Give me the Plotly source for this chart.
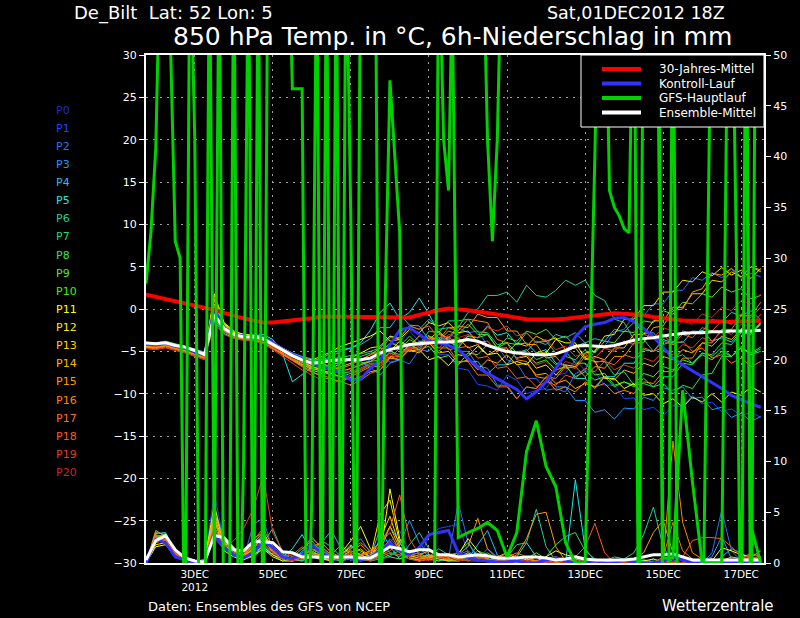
import pandas as pd
import plotly.graph_objects as go

# ---------------- data ----------------
start = "2012-12-01 18:00"
t6 = pd.date_range(start, periods=64, freq="6h")
t3 = pd.date_range(start, periods=127, freq="3h")

tick_dates = ["2012-12-03", "2012-12-05", "2012-12-07", "2012-12-09",
              "2012-12-11", "2012-12-13", "2012-12-15", "2012-12-17"]
tick_labels = ["3DEC<br>2012", "5DEC", "7DEC", "9DEC", "11DEC", "13DEC", "15DEC", "17DEC"]

clim_temp = [1.7, 1.45, 1.2, 0.95, 0.7, 0.45, 0.2, -0.1,
             -0.45, -0.8, -1.1, -1.35, -1.6, -1.6, -1.5, -1.4,
             -1.3, -1.1, -0.9, -0.9, -0.9, -0.9, -0.9, -0.9,
             -0.9, -0.95, -1.0, -1.0, -0.7, -0.4, -0.15, 0.05,
             0.0, -0.15, -0.3, -0.5, -0.7, -0.9, -1.1, -1.2,
             -1.25, -1.3, -1.25, -1.15, -1.0, -0.9, -0.75, -0.6,
             -0.5, -0.55, -0.6, -0.75, -0.95, -1.1, -1.3, -1.35,
             -1.4, -1.45, -1.5, -1.5, -1.5, -1.45, -1.4, -1.4]

mean_temp = [-4.0, -4.1, -4.0, -4.3, -4.5, -4.9, -5.4, -0.7,
             -2.3, -3.0, -3.3, -3.3, -3.5, -4.2, -4.9, -5.5,
             -6.0, -6.4, -6.3, -6.1, -6.0, -6.0, -6.0, -5.8,
             -5.2, -4.8, -4.5, -4.2, -4.1, -4.0, -3.9, -3.9,
             -3.8, -3.6, -3.8, -4.3, -4.7, -5.0, -5.2, -5.3,
             -5.4, -5.4, -5.3, -4.9, -4.4, -4.3, -4.4, -4.45,
             -4.3, -4.0, -3.7, -3.5, -3.4, -3.2, -3.0, -2.9,
             -2.8, -2.8, -2.7, -2.7, -2.6, -2.6, -2.6, -2.5]

mean_prec = [0.3, 2.2, 2.7, 1.3, 0.5, 0.2, 0.1, 2.7,
             2.5, 1.3, 1.2, 2.1, 2.1, 2.0, 1.1, 1.0,
             0.6, 0.6, 0.6, 0.6, 0.6, 0.6, 0.5, 0.5,
             1.0, 1.6, 1.4, 1.1, 1.3, 1.3, 0.8, 0.8,
             0.6, 0.7, 0.8, 0.7, 0.5, 0.5, 0.5, 0.6,
             0.6, 0.5, 0.3, 0.4, 0.6, 0.4, 0.3, 0.3,
             0.3, 0.3, 0.4, 0.6, 0.8, 0.8, 0.9, 0.6,
             0.3, 0.3, 0.3, 0.3, 0.3, 0.3, 0.3, 0.3]

ctrl_temp = [-4.1, -4.2, -4.0, -4.4, -4.6, -5.1, -5.4, 0.0,
             -2.2, -3.0, -3.2, -3.4, -3.4, -4.0, -4.8, -5.4,
             -5.9, -6.4, -6.8, -7.2, -7.5, -8.4, -8.3, -7.0,
             -6.0, -4.2, -2.5, -2.2, -3.0, -3.8, -4.0, -4.3,
             -4.8, -5.8, -6.9, -7.6, -8.2, -8.8, -9.5, -10.6,
             -9.8, -8.6, -7.0, -5.4, -3.3, -2.1, -1.8, -1.6,
             -1.1, -1.0, -1.5, -2.3, -3.3, -4.6, -5.8, -6.6,
             -7.3, -8.0, -8.6, -9.4, -10.2, -10.7, -11.2, -11.6]

ctrl_prec = [0, 2.3, 2.0, 0.6, 0.3, 0.0, 0.2, 2.8,
             1.5, 0.8, 0.5, 1.0, 2.2, 1.5, 0.6, 0.4,
             0.8, 1.8, 1.0, 0.5, 0.8, 0.4, 0.3, 0.6,
             1.2, 2.0, 1.2, 0.8, 1.5, 2.8, 3.0, 3.2,
             1.0, 0.5, 0.3, 0.2, 0.1, 0.1, 0.2, 0.0,
             0.0, 0.3, 0.5, 0.2, 0.0, 0.1, 0.2, 0.0,
             0.0, 0.3, 0.1, 0.0, 0.0, 0.2, 0.6, 0.3,
             0.0, 0.0, 0.1, 0.0, 0.0, 0.2, 0.0, 0.1]

gfs_temp = [3, 9, 19, 45, 45, 32, 8, 6, -45, 45,
            20, -45, -45, 45, -30, 45, -45, -45, 45, -45,
            -18, 45, -45, 45, -45, 45, 50, 50, 50, 50,
            26, 26, 26, -45, -22, 45, -45, 45, -45, 45,
            -45, 45, 10, -45, 45, 50, 50, 45, -45, 0,
            27, 18, 9, -45, -40, -45, -45, -45, -45, -45,
            45, 20, 14, 45, 45, 45, 45, 45, 45, 45,
            20, 8, 20, 45, 45, 45, 45, 45, 45, 45,
            45, 45, 45, 45, 45, 45, 45, 45, 45, 45,
            45, 45, 45, 45, 45, 14, 12, 11, 9.5, 9,
            45, -45, 45, 45, 45, 45, -45, -45, 45, -45,
            -45, -45, -45, -45, -45, 0, 45, 45, 45, 45,
            45, 7, -45, 45, -45, 45, 45]

gfs_prec = [90, 90, 90, 90, 90, 90, 90, 90,
            90, 90, 90, 90, 90, 90, 90, 90,
            90, 90, 90, 90, 90, 90, 90, 90,
            90, 90, 90, 90, 90, 90, 90, 90,
            2.5, 3.0, 3.4, 4.0, 3.2, 0.6, 3.0, 11.0,
            14.0, 9.5, 7.5, 2.0, 0.0, 0.0, 40, 90,
            90, 90, 90, 90, 90, 0.5, 0.5, 17,
            8, 0.0, 0.0, 0.0, 90, 90, 3.6, 0.0]

t_p1 = [-4.2, -4.3, -4.1, -4.4, -4.7, -5.0, -5.6, -1.0,
        -2.5, -3.2, -3.5, -3.4, -3.6, -4.5, -5.2, -6.0,
        -6.8, -7.4, -7.9, -7.5, -7.0, -6.6, -6.8, -6.2,
        -5.5, -4.2, -3.9, -2.6, -3.8, -4.0, -5.4, -5.4,
        -7.0, -7.2, -8.9, -9.1, -9.6, -7.8, -8.4, -10.0,
        -9.6, -9.4, -7.8, -7.6, -6.0, -7.3, -7.4, -9.0,
        -9.0, -10.6, -10.5, -11.9, -11.6, -12.6, -11.4, -11.6,
        -10.2, -11.2, -11.0, -12.1, -11.8, -12.6, -12.2, -12.8]
t_p2 = [-4.0, -4.0, -3.9, -4.2, -4.4, -4.8, -5.2, -0.2,
        -2.0, -2.8, -3.1, -3.0, -3.2, -3.8, -4.6, -5.2,
        -5.7, -6.2, -6.5, -6.9, -7.3, -7.1, -6.6, -6.0,
        -5.2, -6.3, -6.0, -6.5, -4.8, -5.0, -3.6, -3.6,
        -2.2, -2.8, -2.6, -4.3, -4.4, -6.0, -6.4, -8.2,
        -8.2, -9.6, -9.4, -9.8, -7.6, -7.2, -4.8, -4.4,
        -2.7, -2.4, -0.8, -0.8, 0.6, 0.6, 2.2, 2.2,
        3.7, 3.4, 4.3, 3.7, 4.7, 3.6, 4.2, 3.8]
t_p3 = [-4.3, -4.4, -4.2, -4.5, -4.8, -5.2, -5.5, -1.2,
        -2.6, -3.1, -3.4, -3.6, -3.9, -4.4, -5.0, -5.8,
        -6.4, -6.9, -7.0, -6.6, -6.2, -5.8, -6.2, -6.9,
        -7.8, -6.4, -6.0, -4.5, -4.6, -3.2, -3.6, -3.4,
        -5.0, -5.0, -6.7, -7.0, -9.0, -9.0, -10.6, -9.2,
        -9.4, -8.0, -9.2, -9.2, -10.8, -10.8, -12.2, -11.9,
        -13.0, -11.7, -11.8, -10.4, -10.8, -9.3, -9.6, -9.2,
        -10.6, -10.4, -11.9, -11.6, -12.8, -12.3, -13.3, -12.7]
t_p4 = [-3.9, -4.1, -4.0, -4.2, -4.5, -4.7, -5.1, 0.3,
        -1.8, -2.7, -3.0, -3.2, -3.3, -4.0, -4.6, -5.2,
        -5.6, -5.9, -6.0, -5.6, -5.0, -4.6, -4.2, -3.5,
        -2.2, -2.2, -0.6, -1.9, -2.0, -3.7, -3.4, -4.8,
        -4.6, -6.2, -6.2, -7.7, -6.6, -6.6, -5.0, -5.0,
        -3.8, -4.2, -3.0, -3.4, -2.8, -4.0, -3.5, -3.8,
        -2.4, -2.7, -1.6, -2.9, -2.8, -4.2, -3.8, -4.0,
        -2.6, -2.7, -1.2, -1.6, -0.4, -0.8, -0.2, -1.3]
t_p5 = [-4.5, -4.6, -4.3, -4.6, -4.9, -5.3, -5.8, -1.5,
        -2.9, -3.4, -3.5, -3.2, -3.0, -3.6, -5.3, -8.6,
        -7.8, -6.9, -5.8, -5.2, -4.8, -4.6, -4.0, -2.5,
        -0.4, 0.7, -1.2, -0.4, 1.3, -0.6, -2.8, -3.6,
        -4.6, -3.2, -3.4, -2.0, -3.1, -2.8, -4.2, -4.0,
        -5.2, -4.8, -6.4, -6.6, -8.2, -8.2, -9.4, -8.0,
        -8.0, -6.4, -6.4, -4.8, -5.0, -3.6, -4.0, -2.6,
        -2.9, -2.5, -3.8, -3.4, -3.9, -2.6, -3.0, -1.8]
t_p6 = [-4.1, -4.2, -4.1, -4.3, -4.6, -5.0, -5.3, -0.8,
        -2.4, -3.0, -3.2, -3.1, -3.4, -4.1, -4.8, -5.4,
        -5.8, -6.1, -6.0, -5.9, -5.7, -5.5, -5.3, -5.0,
        -4.6, -3.2, -3.4, -2.0, -2.4, -1.2, -2.4, -2.2,
        -2.2, -0.4, 0.0, 1.6, 1.6, 2.0, 0.8, 2.8,
        1.6, 1.4, 2.2, 3.4, 2.8, 3.4, 1.6, 1.0,
        -1.2, -1.6, -3.6, -3.6, -5.0, -4.6, -5.8, -5.4,
        -6.4, -5.2, -5.6, -4.6, -5.6, -4.6, -5.4, -4.7]
t_p7 = [-4.4, -4.3, -4.2, -4.5, -4.7, -5.1, -5.6, -1.3,
        -2.7, -3.3, -3.5, -3.4, -3.7, -4.3, -4.9, -5.6,
        -6.2, -6.6, -6.9, -7.2, -7.6, -7.4, -7.0, -6.4,
        -6.4, -5.2, -5.6, -4.2, -4.2, -2.6, -2.8, -1.4,
        -1.4, -1.2, -2.7, -2.8, -4.2, -4.0, -5.2, -4.8,
        -6.0, -5.5, -6.6, -5.6, -6.0, -4.8, -6.2, -6.2,
        -7.8, -7.4, -9.0, -8.8, -9.2, -8.0, -8.0, -6.4,
        -6.6, -5.2, -5.4, -4.0, -4.2, -2.8, -3.0, -1.6]
t_p8 = [-4.0, -4.0, -3.8, -4.1, -4.4, -4.8, -5.2, 0.0,
        -2.1, -2.9, -3.3, -3.4, -3.7, -4.4, -5.0, -5.6,
        -6.0, -6.5, -6.8, -6.6, -6.3, -6.0, -5.6, -5.2,
        -5.2, -4.0, -4.4, -3.2, -4.3, -3.8, -5.0, -3.9,
        -4.4, -3.2, -3.4, -3.0, -4.6, -4.0, -4.2, -2.8,
        -4.0, -3.8, -5.2, -5.0, -6.4, -6.4, -7.8, -7.6,
        -9.0, -8.6, -9.2, -8.2, -9.2, -8.8, -10.0, -9.0,
        -9.4, -7.8, -7.6, -5.6, -5.6, -4.4, -5.4, -5.0]
t_p9 = [-4.2, -4.3, -4.1, -4.4, -4.6, -5.0, -5.5, -0.4,
        -2.3, -3.0, -3.3, -3.4, -3.6, -4.2, -4.9, -5.6,
        -6.4, -7.0, -7.4, -7.8, -8.0, -7.6, -7.2, -6.6,
        -6.4, -5.0, -5.4, -4.2, -4.8, -4.4, -5.8, -5.5,
        -6.6, -5.2, -5.4, -4.2, -4.6, -3.4, -3.8, -2.6,
        -3.0, -2.4, -3.6, -3.2, -4.4, -4.0, -5.2, -3.8,
        -4.0, -2.6, -2.8, -1.4, -1.6, -0.2, -0.6, 0.8,
        0.6, 1.8, 1.4, 2.6, 2.0, 2.4, 1.2, 1.6]
t_p10 = [-4.1, -4.1, -4.0, -4.3, -4.5, -4.9, -5.4, -0.6,
         -2.2, -2.9, -3.2, -3.3, -3.5, -4.1, -4.8, -5.4,
         -5.9, -6.3, -6.2, -6.0, -5.9, -6.1, -6.4, -6.2,
         -6.0, -4.6, -4.8, -3.6, -4.2, -3.2, -3.8, -2.6,
         -3.0, -1.8, -3.0, -3.0, -4.6, -4.6, -5.8, -5.4,
         -6.4, -6.0, -7.2, -6.8, -8.0, -7.4, -8.4, -8.0,
         -9.2, -8.6, -9.0, -7.6, -8.0, -6.8, -7.2, -6.0,
         -6.4, -5.4, -6.0, -5.0, -5.6, -4.6, -5.2, -4.5]
t_p11 = [-4.3, -4.4, -4.2, -4.5, -4.8, -5.1, -5.3, 1.8,
         -1.6, -2.6, -3.0, -3.1, -3.3, -4.0, -4.8, -5.4,
         -5.8, -6.0, -5.6, -5.0, -4.4, -4.0, -3.6, -3.2,
         -2.6, -3.8, -3.6, -5.0, -4.8, -6.0, -5.6, -6.7,
         -5.4, -5.6, -4.4, -5.4, -5.2, -6.6, -6.2, -6.6,
         -5.2, -5.2, -3.6, -4.0, -4.0, -5.8, -6.2, -8.2,
         -8.2, -9.4, -8.8, -10.2, -10.0, -11.2, -10.6, -11.6,
         -10.4, -11.0, -10.0, -11.0, -9.8, -10.2, -9.2, -9.8]
t_p12 = [-4.0, -4.2, -4.0, -4.3, -4.6, -5.0, -5.4, 1.2,
         -1.8, -2.8, -3.1, -3.3, -3.6, -4.3, -5.0, -5.6,
         -6.2, -6.8, -7.2, -7.0, -6.4, -5.8, -5.2, -4.6,
         -4.4, -3.2, -3.6, -2.4, -2.8, -1.6, -2.0, -1.6,
         -2.8, -2.6, -4.0, -3.8, -5.0, -4.6, -5.8, -5.6,
         -7.0, -6.6, -7.8, -6.6, -6.8, -5.2, -5.0, -3.2,
         -3.0, -1.2, -1.2, 0.4, 0.4, 2.0, 2.0, 3.4,
         3.2, 4.4, 3.9, 4.9, 4.0, 4.6, 3.6, 4.8]
t_p13 = [-4.4, -4.5, -4.3, -4.6, -4.9, -5.2, -5.6, 0.6,
         -2.0, -2.9, -3.4, -3.5, -3.8, -4.5, -5.2, -5.8,
         -6.6, -7.2, -7.6, -7.3, -6.8, -6.4, -6.0, -5.4,
         -4.6, -5.0, -3.8, -4.4, -3.2, -3.6, -2.6, -3.8,
         -3.4, -4.6, -4.2, -5.4, -4.8, -5.2, -4.0, -4.4,
         -3.2, -3.8, -3.4, -4.8, -4.6, -6.0, -5.6, -6.0,
         -4.6, -4.6, -3.0, -3.0, -1.4, -1.4, 0.2, 0.2,
         1.8, 1.8, 3.4, 3.2, 4.4, 3.8, 5.0, 4.4]
t_p14 = [-4.2, -4.4, -4.2, -4.4, -4.7, -5.1, -5.5, 1.6,
         -1.7, -2.7, -3.2, -3.4, -3.6, -4.2, -4.9, -5.6,
         -6.2, -6.8, -7.2, -7.6, -8.0, -8.4, -8.0, -7.4,
         -7.2, -5.8, -6.0, -4.8, -5.2, -4.0, -5.2, -5.0,
         -6.4, -6.0, -7.2, -6.0, -6.4, -5.4, -6.6, -6.4,
         -7.8, -7.6, -8.8, -8.4, -9.4, -8.8, -9.2, -8.0,
         -8.4, -7.2, -7.6, -6.4, -6.8, -5.6, -6.0, -4.8,
         -5.2, -4.0, -4.4, -3.2, -3.6, -2.4, -2.8, -1.6]
t_p15 = [-4.5, -4.6, -4.4, -4.7, -5.0, -5.4, -5.8, 1.0,
         -2.0, -3.1, -3.5, -3.6, -3.9, -4.6, -5.4, -6.0,
         -6.6, -7.0, -7.3, -7.6, -7.4, -7.0, -6.6, -6.2,
         -5.4, -5.8, -4.6, -5.0, -3.8, -4.2, -3.0, -3.4,
         -2.0, -2.2, -0.6, -1.0, -1.0, -2.6, -2.6, -4.2,
         -4.2, -5.8, -5.6, -7.0, -6.8, -8.0, -6.8, -7.0,
         -5.6, -5.6, -4.0, -4.0, -2.2, -2.0, -0.2, 0.0,
         2.0, 2.4, 4.2, 4.0, 4.8, 3.8, 5.0, 4.6]
t_p16 = [-4.3, -4.5, -4.3, -4.6, -4.9, -5.3, -5.7, 0.2,
         -2.4, -3.2, -3.5, -3.6, -3.9, -4.6, -5.3, -6.0,
         -6.8, -7.4, -8.0, -8.4, -8.6, -8.0, -7.4, -6.8,
         -6.8, -5.6, -6.0, -4.6, -4.8, -3.4, -3.6, -2.2,
         -2.6, -1.2, -1.4, -1.6, -3.6, -4.0, -6.0, -6.2,
         -8.0, -8.2, -9.6, -9.2, -9.8, -8.6, -9.2, -8.8,
         -10.0, -9.6, -10.0, -8.6, -8.8, -7.4, -7.4, -5.8,
         -5.8, -4.0, -4.0, -2.4, -2.4, -0.8, -0.8, 0.8]
t_p17 = [-4.6, -4.7, -4.5, -4.8, -5.1, -5.5, -5.9, -0.3,
         -2.6, -3.4, -3.6, -3.7, -4.0, -4.7, -5.4, -6.2,
         -6.9, -7.5, -7.8, -8.2, -8.6, -9.0, -8.4, -7.6,
         -7.2, -5.6, -5.6, -4.2, -4.4, -3.2, -4.6, -4.6,
         -6.2, -6.2, -7.8, -7.8, -9.2, -9.2, -10.6, -9.2,
         -9.4, -8.0, -8.2, -6.8, -7.0, -5.6, -5.8, -4.6,
         -5.0, -3.8, -4.2, -3.0, -3.4, -3.0, -4.2, -3.8,
         -5.0, -4.6, -5.8, -5.4, -6.4, -5.8, -6.8, -6.2]
t_p18 = [-4.2, -4.3, -4.2, -4.5, -4.7, -5.1, -5.5, -0.9,
         -2.5, -3.2, -3.4, -3.3, -3.5, -4.1, -4.7, -5.3,
         -5.8, -6.1, -6.4, -6.8, -7.0, -6.6, -6.0, -5.4,
         -5.0, -3.4, -3.4, -2.0, -2.4, -2.0, -3.4, -3.2,
         -4.6, -4.4, -5.8, -5.6, -7.0, -6.8, -8.2, -8.0,
         -9.2, -8.6, -9.0, -7.8, -8.2, -7.0, -7.4, -6.2,
         -6.6, -5.4, -5.8, -4.6, -5.0, -3.8, -4.2, -3.0,
         -3.4, -2.2, -2.6, -1.4, -1.8, -0.6, -1.0, 0.2]
t_p19 = [-4.7, -4.8, -4.6, -4.9, -5.2, -5.6, -6.0, -1.8,
         -3.0, -3.5, -3.7, -3.8, -4.1, -4.8, -5.6, -6.4,
         -7.2, -7.8, -8.4, -8.8, -8.4, -7.8, -7.2, -6.6,
         -6.4, -5.2, -5.6, -4.4, -5.0, -4.0, -4.6, -3.6,
         -4.2, -3.0, -3.4, -2.2, -2.6, -2.0, -3.2, -2.8,
         -4.0, -3.6, -4.8, -4.4, -5.6, -5.2, -6.4, -6.0,
         -7.2, -6.6, -7.0, -5.8, -6.2, -5.0, -5.4, -4.2,
         -4.6, -3.4, -3.8, -2.6, -3.0, -1.8, -2.0, -0.6]
t_p20 = [-4.3, -4.4, -4.2, -4.5, -4.8, -5.2, -5.6, -0.5,
         -2.3, -3.1, -3.4, -3.5, -3.8, -4.5, -5.1, -5.8,
         -6.2, -6.6, -6.8, -7.0, -7.2, -7.4, -7.0, -6.6,
         -6.6, -5.4, -5.8, -4.6, -5.0, -3.8, -4.2, -3.0,
         -3.4, -3.0, -4.2, -3.8, -5.0, -4.6, -5.8, -5.4,
         -6.6, -6.2, -7.4, -6.2, -6.6, -5.4, -5.8, -4.6,
         -5.0, -3.8, -4.2, -3.0, -3.4, -2.2, -2.6, -1.4,
         -1.8, -0.6, -1.0, 0.2, -0.2, 1.0, 0.6, 1.8]

r_p1 = [0, 2.4, 2.2, 0.8, 0.3, 0, 0.2, 6.9,
        2.0, 1.0, 0.6, 1.4, 2.8, 1.2, 0.4, 0.2,
        0.6, 1.6, 0.8, 0.2, 0.4, 1.0, 0.6, 0.2,
        0.8, 2.0, 3.2, 1.0, 0.4, 2.6, 3.4, 3.6,
        3.8, 1.0, 0.3, 0.1, 0.0, 0.2, 0.0, 0.0,
        0.1, 0.3, 0.0, 0.0, 0.2, 0.0, 0.0, 0.1,
        0.0, 0.0, 0.2, 0.4, 0.0, 0.0, 0.1, 0.0,
        0.0, 0.0, 0.3, 0.0, 0.0, 0.0, 0.2, 0.0]
r_p2 = [0, 2.0, 2.6, 1.0, 0.2, 0, 0.0, 4.2,
        1.6, 0.8, 0.4, 3.8, 4.4, 1.2, 0.6, 0.3,
        0.2, 0.8, 1.6, 0.6, 0.2, 0.4, 0.8, 0.4,
        0.6, 2.4, 1.4, 0.6, 0.8, 1.2, 0.6, 0.4,
        6.0, 2.0, 0.4, 1.4, 0.6, 0.2, 0.0, 0.0,
        0.0, 0.0, 0.2, 0.0, 0.0, 0.0, 0.3, 0.0,
        0.0, 0.2, 0.0, 0.0, 0.0, 0.0, 0.3, 0.0,
        0.0, 0.0, 1.0, 5.2, 1.2, 0.2, 0.0, 0.0]
r_p3 = [0, 2.2, 2.4, 0.6, 0.2, 0, 0.3, 5.6,
        2.2, 1.4, 0.8, 0.6, 1.8, 0.8, 0.4, 0.2,
        1.2, 2.6, 1.4, 0.6, 0.4, 1.4, 2.4, 1.0,
        0.4, 0.6, 1.8, 4.2, 2.0, 0.8, 0.4, 0.3,
        0.8, 1.2, 0.4, 0.6, 0.2, 0.0, 0.0, 0.4,
        0.2, 0.0, 0.0, 0.0, 0.0, 0.1, 0.0, 0.0,
        0.0, 0.0, 0.0, 0.0, 0.4, 0.2, 0.0, 0.0,
        0.0, 0.2, 0.6, 2.6, 0.4, 0.0, 0.0, 0.1]
r_p4 = [0, 2.6, 2.8, 1.0, 0.3, 0.1, 0.4, 4.8,
        2.6, 1.6, 0.6, 2.4, 3.0, 1.4, 0.6, 0.4,
        0.2, 0.6, 2.0, 3.2, 1.4, 0.4, 0.2, 0.6,
        3.4, 1.6, 0.4, 0.8, 1.6, 0.6, 0.2, 0.4,
        0.6, 0.4, 1.8, 3.2, 0.8, 0.2, 0.0, 0.0,
        0.3, 0.0, 0.0, 0.0, 0.0, 0.0, 0.0, 0.2,
        0.0, 0.0, 0.0, 0.3, 0.0, 0.0, 0.0, 0.0,
        0.0, 0.0, 0.0, 0.6, 1.4, 1.0, 0.4, 0.0]
r_p5 = [0, 2.9, 3.0, 1.2, 0.4, 0, 0.2, 3.4,
        2.0, 1.2, 0.6, 1.8, 2.6, 1.0, 0.6, 1.4,
        2.8, 1.0, 0.4, 0.3, 0.8, 1.8, 0.6, 0.2,
        1.2, 3.6, 2.0, 0.6, 0.4, 0.8, 0.4, 0.2,
        0.4, 0.6, 0.2, 0.4, 0.0, 0.2, 0.6, 2.0,
        0.6, 0.2, 0.4, 0.0, 8.2, 1.4, 0.2, 0.0,
        0.0, 0.0, 0.0, 0.2, 0.0, 0.0, 0.0, 0.0,
        0.0, 0.0, 0.2, 0.0, 0.0, 0.0, 0.0, 0.0]
r_p6 = [0, 3.0, 2.8, 1.2, 0.4, 0.1, 0.3, 3.8,
        2.4, 1.4, 0.8, 1.2, 2.0, 3.4, 1.0, 0.4,
        0.2, 1.0, 2.2, 1.6, 0.6, 0.3, 0.4, 0.8,
        2.2, 1.0, 0.6, 1.8, 3.0, 1.4, 0.4, 0.6,
        1.0, 2.0, 0.6, 0.4, 0.2, 0.6, 1.8, 2.0,
        5.3, 1.6, 0.2, 0.0, 0.4, 0.0, 0.0, 0.2,
        0.6, 0.4, 1.0, 2.8, 5.5, 1.6, 0.0, 0.0,
        0.0, 0.2, 0.4, 0.0, 0.0, 0.2, 0.0, 0.0]
r_p7 = [0, 2.7, 2.5, 0.9, 0.2, 0, 0.2, 3.0,
        1.8, 1.0, 0.4, 0.6, 1.4, 0.8, 0.2, 0.4,
        1.0, 0.6, 0.3, 0.8, 1.8, 0.8, 0.4, 0.2,
        0.4, 0.8, 1.2, 0.6, 0.4, 0.6, 1.4, 0.8,
        0.4, 0.2, 0.6, 1.0, 0.4, 0.2, 0.0, 0.0,
        0.2, 0.6, 1.8, 2.6, 3.0, 1.2, 0.4, 0.2,
        0.0, 0.0, 0.3, 0.0, 0.0, 0.2, 0.0, 0.0,
        0.0, 0.0, 0.0, 0.4, 0.0, 0.0, 0.0, 0.3]
r_p8 = [0, 2.5, 2.9, 1.1, 0.3, 0.1, 0.2, 4.0,
        2.2, 1.2, 0.6, 1.0, 2.2, 1.6, 0.8, 0.4,
        0.6, 1.4, 0.8, 0.4, 0.2, 0.6, 1.0, 0.6,
        0.8, 1.8, 1.0, 0.4, 0.2, 0.4, 0.6, 0.4,
        0.2, 0.4, 1.2, 0.8, 0.2, 0.0, 0.3, 0.0,
        0.0, 0.4, 0.0, 0.0, 0.2, 0.0, 0.0, 0.0,
        0.2, 0.0, 0.0, 0.0, 0.0, 0.4, 0.0, 0.0,
        0.0, 0.0, 0.0, 0.0, 0.3, 0.0, 0.0, 0.0]
r_p9 = [0, 2.3, 2.6, 1.0, 0.2, 0, 0.3, 3.6,
        1.6, 0.8, 0.4, 1.6, 2.4, 1.0, 0.4, 0.6,
        1.4, 2.2, 1.0, 0.4, 0.8, 0.6, 0.2, 0.4,
        1.2, 0.6, 0.4, 0.8, 1.0, 0.4, 0.2, 0.6,
        1.0, 0.6, 0.2, 0.4, 0.0, 0.0, 0.2, 0.4,
        1.0, 0.4, 0.0, 0.0, 0.0, 0.2, 0.0, 0.0,
        0.0, 0.0, 0.0, 0.2, 0.0, 0.0, 0.0, 0.0,
        0.0, 0.0, 0.0, 0.0, 0.0, 0.2, 0.0, 0.0]
r_p10 = [0, 2.1, 2.4, 0.8, 0.3, 0, 0.1, 2.6,
         1.4, 0.8, 0.5, 1.2, 1.8, 1.0, 0.6, 0.4,
         0.8, 1.2, 0.6, 0.4, 0.6, 1.0, 0.8, 0.4,
         0.6, 1.0, 0.8, 0.4, 0.6, 0.8, 0.4, 0.2,
         0.6, 0.8, 0.4, 0.2, 0.6, 0.4, 0.2, 0.0,
         0.0, 0.2, 0.0, 0.0, 0.0, 0.0, 0.2, 0.0,
         0.0, 0.0, 0.0, 0.0, 0.2, 0.0, 0.0, 0.0,
         0.0, 0.0, 0.2, 0.0, 0.0, 0.0, 0.0, 0.0]
r_p11 = [0, 1.6, 1.8, 0.6, 0.2, 0, 0.0, 4.4,
         1.2, 0.6, 0.3, 0.8, 1.4, 0.6, 0.2, 0.2,
         0.4, 0.6, 0.4, 0.2, 1.0, 2.2, 3.6, 1.4,
         0.6, 7.3, 2.4, 0.6, 0.2, 0.4, 0.6, 0.4,
         0.8, 2.4, 1.2, 0.4, 0.2, 0.0, 0.0, 0.4,
         0.2, 0.6, 1.2, 0.8, 0.6, 0.2, 0.0, 0.0,
         0.0, 0.0, 0.0, 0.2, 0.4, 0.0, 0.0, 0.0,
         0.0, 0.0, 0.2, 1.5, 1.2, 0.8, 0.6, 0.4]
r_p12 = [0, 1.8, 2.0, 0.7, 0.2, 0, 0.1, 5.8,
         1.4, 0.8, 0.4, 1.0, 1.6, 0.8, 0.4, 0.2,
         0.4, 0.8, 0.6, 0.4, 0.8, 1.6, 1.2, 0.6,
         4.8, 6.2, 2.0, 0.8, 0.4, 0.6, 0.8, 0.6,
         0.4, 0.6, 0.4, 0.2, 0.6, 1.0, 0.4, 0.2,
         0.0, 0.2, 0.4, 0.0, 0.0, 0.0, 0.0, 0.2,
         0.0, 0.0, 0.0, 0.0, 0.0, 0.0, 0.0, 0.0,
         0.2, 0.0, 0.0, 0.0, 0.0, 0.0, 0.4, 0.2]
r_p13 = [0, 2.0, 2.3, 0.8, 0.3, 0, 0.2, 4.6,
         1.8, 1.0, 0.6, 2.0, 3.0, 1.4, 0.6, 0.4,
         0.6, 1.0, 0.8, 0.4, 0.6, 1.2, 0.8, 0.4,
         2.4, 4.6, 1.6, 0.6, 0.3, 0.6, 0.4, 0.2,
         0.2, 0.4, 0.6, 0.8, 0.4, 0.2, 0.0, 0.0,
         0.0, 0.0, 0.2, 0.4, 0.2, 0.0, 0.0, 0.0,
         0.0, 0.0, 0.0, 0.0, 0.0, 0.2, 0.0, 0.0,
         0.0, 0.0, 0.0, 0.2, 0.6, 0.4, 0.2, 0.0]
r_p14 = [0, 2.4, 2.7, 0.9, 0.3, 0, 0.2, 5.0,
         2.0, 1.2, 0.6, 1.4, 2.6, 1.2, 0.4, 0.2,
         0.6, 1.8, 1.2, 0.6, 0.4, 0.8, 1.4, 0.6,
         1.8, 3.6, 1.4, 0.6, 0.4, 0.8, 0.6, 0.4,
         0.6, 1.0, 0.6, 0.3, 0.2, 0.4, 0.2, 0.0,
         0.0, 0.4, 0.6, 0.2, 0.0, 0.0, 0.0, 0.0,
         0.0, 0.2, 0.0, 0.0, 0.0, 0.0, 0.0, 0.0,
         0.0, 0.0, 0.0, 0.0, 0.0, 0.2, 0.6, 0.2]
r_p15 = [0, 3.2, 2.6, 1.0, 0.4, 0.1, 0.2, 4.2,
         2.0, 1.0, 0.6, 1.8, 2.8, 1.4, 0.6, 0.4,
         0.8, 1.6, 2.0, 1.0, 0.6, 0.4, 0.8, 1.2,
         2.0, 3.0, 1.2, 0.6, 0.8, 1.2, 0.6, 0.4,
         0.8, 1.6, 4.4, 1.4, 0.4, 0.2, 0.8, 2.4,
         4.8, 5.0, 1.6, 0.2, 0.4, 0.2, 0.0, 0.0,
         0.0, 0.0, 0.4, 1.0, 3.0, 4.2, 1.0, 0.2,
         0.0, 0.2, 0.4, 0.2, 0.0, 0.4, 1.0, 0.6]
r_p16 = [0, 2.8, 2.4, 0.9, 0.3, 0, 0.3, 3.2,
         1.8, 1.2, 0.8, 2.2, 3.4, 1.6, 0.8, 0.4,
         1.0, 2.4, 1.6, 0.8, 0.4, 1.0, 1.8, 0.8,
         1.4, 2.2, 1.0, 0.6, 0.4, 0.6, 0.8, 0.6,
         0.4, 0.6, 0.8, 0.4, 0.2, 0.6, 1.0, 0.6,
         0.2, 0.0, 0.0, 0.0, 0.2, 0.0, 0.0, 0.0,
         0.0, 0.0, 0.0, 0.0, 0.0, 0.2, 12.0, 4.0,
         1.0, 0.4, 0.2, 0.0, 0.0, 0.2, 0.6, 1.2]
r_p17 = [0, 2.6, 2.2, 0.8, 0.2, 0, 0.2, 3.8,
         2.2, 1.4, 0.8, 1.6, 2.0, 1.0, 0.6, 0.8,
         1.6, 1.0, 0.6, 0.4, 0.8, 1.4, 2.0, 1.2,
         0.8, 1.2, 2.0, 1.0, 0.6, 0.4, 0.6, 0.8,
         1.0, 0.6, 0.4, 0.2, 0.4, 0.6, 0.4, 0.2,
         0.6, 0.4, 0.2, 0.0, 0.0, 0.0, 0.0, 0.0,
         0.0, 0.0, 0.0, 0.0, 0.0, 0.6, 4.0, 1.2,
         0.4, 0.2, 0.0, 0.0, 0.2, 0.4, 0.8, 0.6]
r_p18 = [0, 2.2, 2.6, 1.2, 0.4, 0.1, 0.2, 3.0,
         1.8, 1.4, 1.0, 1.6, 2.4, 1.2, 0.6, 0.4,
         0.8, 1.4, 1.0, 0.6, 0.4, 0.6, 0.8, 1.0,
         2.0, 3.4, 6.7, 2.4, 0.8, 0.4, 0.6, 0.4,
         0.6, 0.8, 0.4, 0.2, 0.4, 1.0, 0.6, 0.2,
         0.2, 0.4, 0.6, 0.4, 0.6, 1.6, 3.9, 1.0,
         0.0, 0.0, 0.0, 0.0, 0.0, 0.2, 0.0, 0.6,
         2.2, 2.5, 2.5, 2.4, 1.6, 0.6, 0.2, 0.0]
r_p19 = [0, 2.0, 2.4, 1.0, 0.3, 0, 0.4, 2.4,
         1.4, 2.2, 3.4, 5.3, 8.6, 3.0, 1.2, 0.6,
         0.4, 0.8, 0.6, 0.4, 0.6, 0.8, 0.4, 0.2,
         0.6, 1.0, 0.8, 0.4, 0.2, 0.4, 0.6, 0.8,
         0.4, 0.2, 0.2, 0.6, 0.8, 0.4, 0.2, 0.0,
         0.0, 0.2, 0.0, 0.0, 0.0, 0.0, 0.0, 0.0,
         0.0, 0.0, 0.0, 0.0, 0.0, 0.0, 0.0, 0.0,
         0.0, 0.0, 0.0, 0.2, 0.0, 0.6, 0.6, 0.4]
r_p20 = [0, 2.4, 2.0, 0.8, 0.2, 0, 0.2, 3.4,
         1.6, 1.0, 0.6, 1.2, 1.8, 1.0, 0.4, 0.2,
         0.4, 0.8, 0.6, 0.4, 0.6, 1.0, 0.6, 0.4,
         0.8, 1.6, 1.2, 0.6, 0.4, 0.2, 0.4, 0.6,
         0.2, 0.4, 0.6, 0.2, 0.0, 0.2, 0.4, 0.2,
         0.0, 0.0, 0.2, 0.0, 0.0, 0.0, 0.2, 0.0,
         0.0, 0.0, 0.0, 0.0, 0.0, 0.0, 0.2, 0.0,
         0.0, 0.0, 0.0, 0.0, 0.0, 0.2, 0.4, 0.2]

member_names = ["P%d" % i for i in range(21)]
member_colors = ["#2828c8", "#1e46ff", "#2870ff", "#1e96ff", "#1ebef0", "#1ee6e6",
                 "#1ed296", "#1edc6e", "#32e646", "#50e632", "#3cf01e", "#ffff00",
                 "#ffe600", "#ffcd00", "#ffb400", "#ff9b00", "#ff8200", "#ff6e0a",
                 "#ff5a1e", "#e63c1e", "#c82828"]

member_temps = [t_p1, t_p2, t_p3, t_p4, t_p5, t_p6, t_p7, t_p8, t_p9, t_p10,
                t_p11, t_p12, t_p13, t_p14, t_p15, t_p16, t_p17, t_p18, t_p19, t_p20]
member_precs = [r_p1, r_p2, r_p3, r_p4, r_p5, r_p6, r_p7, r_p8, r_p9, r_p10,
                r_p11, r_p12, r_p13, r_p14, r_p15, r_p16, r_p17, r_p18, r_p19, r_p20]

legend_names = ["30-Jahres-Mittel", "Kontroll-Lauf", "GFS-Hauptlauf", "Ensemble-Mittel"]
legend_colors = ["#ff0000", "#3232ff", "#00d200", "#ffffff"]

RED, BLUE, GREEN, WHITE = legend_colors
FONT = "DejaVu Sans"

# ---------------- figure ----------------
fig = go.Figure()

# temperatures on main axis
for i, (t, c) in enumerate(zip(member_temps, member_colors[1:])):
    fig.add_trace(go.Scatter(x=t6, y=t, yaxis="y", mode="lines",
                             line=dict(color=c, width=1), showlegend=False,
                             name=member_names[i + 1]))
fig.add_trace(go.Scatter(x=t6, y=ctrl_temp, yaxis="y", mode="lines",
                         line=dict(color=BLUE, width=3), showlegend=False))
fig.add_trace(go.Scatter(x=t6, y=mean_temp, yaxis="y", mode="lines",
                         line=dict(color=WHITE, width=3), showlegend=False))
fig.add_trace(go.Scatter(x=t6, y=clim_temp, yaxis="y", mode="lines",
                         line=dict(color=RED, width=4), showlegend=False))

# precipitation on right axis
for i, (r, c) in enumerate(zip(member_precs, member_colors[1:])):
    fig.add_trace(go.Scatter(x=t6, y=r, yaxis="y2", mode="lines",
                             line=dict(color=c, width=1), showlegend=False,
                             name=member_names[i + 1] + " RR"))
fig.add_trace(go.Scatter(x=t6, y=ctrl_prec, yaxis="y2", mode="lines",
                         line=dict(color=BLUE, width=3), showlegend=False))
fig.add_trace(go.Scatter(x=t6, y=mean_prec, yaxis="y2", mode="lines",
                         line=dict(color=WHITE, width=3), showlegend=False))
fig.add_trace(go.Scatter(x=t6, y=gfs_prec, yaxis="y2", mode="lines",
                         line=dict(color=GREEN, width=3), showlegend=False))

# GFS main run temperature drawn on top
fig.add_trace(go.Scatter(x=t3, y=gfs_temp, yaxis="y3", mode="lines",
                         line=dict(color=GREEN, width=3), showlegend=False))

grid = dict(showgrid=True, gridcolor="#a0a0a0", gridwidth=1, griddash="2px,5px")

fig.update_layout(
    width=800, height=618,
    paper_bgcolor="black", plot_bgcolor="black",
    margin=dict(l=146, r=36, t=55, b=55),
    font=dict(family=FONT, color="white", size=11),
    showlegend=False,
    xaxis=dict(type="date", range=["2012-12-01 18:00", "2012-12-17 14:00"],
               tickvals=tick_dates, ticktext=tick_labels,
               showline=True, linecolor="white", linewidth=2, mirror=True,
               ticks="", tickfont=dict(size=10.5, color="white"),
               zeroline=False, **grid),
    yaxis=dict(range=[-30, 30], tickvals=list(range(-30, 31, 5)),
               showline=True, linecolor="white", linewidth=2,
               ticks="outside", ticklen=5, tickcolor="white",
               tickfont=dict(size=11, color="white"), zeroline=False, **grid),
    yaxis2=dict(range=[0, 50], tickvals=list(range(0, 51, 5)), overlaying="y",
                side="right", showline=True, linecolor="white", linewidth=2,
                ticks="outside", ticklen=5, tickcolor="white",
                tickfont=dict(size=11, color="white"), showgrid=False, zeroline=False),
    yaxis3=dict(range=[-30, 30], overlaying="y", visible=False),
)


def px_x(p):
    return (p - 146) / 618.0


def px_y(p):
    return 1 - (p - 55) / 508.0


shapes = [dict(type="rect", xref="paper", yref="paper",
               x0=px_x(581), x1=1.0, y0=px_y(127), y1=1.0,
               fillcolor="black", line=dict(color="white", width=1), layer="above")]
annotations = []
rows = [69, 83.5, 98, 112.5]
for name, col, ry in zip(legend_names, legend_colors, rows):
    shapes.append(dict(type="line", xref="paper", yref="paper",
                       x0=px_x(602), x1=px_x(641), y0=px_y(ry), y1=px_y(ry),
                       line=dict(color=col, width=4), layer="above"))
    annotations.append(dict(text=name, xref="paper", yref="paper",
                            x=px_x(657), y=px_y(ry), xanchor="left", yanchor="middle",
                            showarrow=False, font=dict(size=12, color="white", family=FONT)))

for i, (name, col) in enumerate(zip(member_names, member_colors)):
    annotations.append(dict(text=name, xref="paper", yref="paper",
                            x=px_x(54), y=px_y(110 + i * 18.13),
                            xanchor="left", yanchor="middle", showarrow=False,
                            font=dict(size=11, color=col, family=FONT)))

annotations += [
    dict(text="De_Bilt  Lat: 52 Lon: 5", xref="paper", yref="paper",
         x=px_x(72), y=px_y(13), xanchor="left", yanchor="middle", showarrow=False,
         font=dict(size=18, color="white", family=FONT)),
    dict(text="Sat,01DEC2012 18Z", xref="paper", yref="paper",
         x=px_x(545), y=px_y(13), xanchor="left", yanchor="middle", showarrow=False,
         font=dict(size=17.5, color="white", family=FONT)),
    dict(text="850 hPa Temp. in °C, 6h-Niederschlag in mm", xref="paper", yref="paper",
         x=px_x(452), y=px_y(36), xanchor="center", yanchor="middle", showarrow=False,
         font=dict(size=25, color="white", family=FONT)),
    dict(text="Daten: Ensembles des GFS von NCEP", xref="paper", yref="paper",
         x=px_x(146), y=px_y(606), xanchor="left", yanchor="middle", showarrow=False,
         font=dict(size=13, color="white", family=FONT)),
    dict(text="Wetterzentrale", xref="paper", yref="paper",
         x=px_x(776), y=px_y(606), xanchor="right", yanchor="middle", showarrow=False,
         font=dict(size=15, color="white", family=FONT)),
]

fig.update_layout(shapes=shapes, annotations=annotations)
fig.write_html("out.html",
               config={"displayModeBar": False},
               post_script="document.body.style.margin='0';document.body.style.overflow='hidden';")
